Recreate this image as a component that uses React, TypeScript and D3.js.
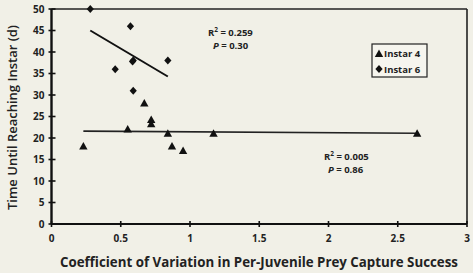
import React from "react";
import * as d3 from "d3";

const instar4X = [0.23, 0.55, 0.67, 0.72, 0.72, 0.84, 0.87, 0.95, 1.17, 2.64];
const instar4Y = [18, 22, 28, 24.2, 23.2, 21, 18, 17, 21, 21];
const instar6X = [0.28, 0.57, 0.46, 0.59, 0.585, 0.59, 0.84];
const instar6Y = [50, 46, 36, 38, 37.8, 31, 38];
const fit4 = [[0.23, 21.6], [2.63, 21.1]];
const fit6 = [[0.28, 45], [0.84, 34.3]];
const xTicks = [0, 0.5, 1, 1.5, 2, 2.5, 3];
const yTicks = [0, 5, 10, 15, 20, 25, 30, 35, 40, 45, 50];

const W = 473, H = 273;
const x0 = 51.5, x1 = 467, y0 = 224, y1 = 9;

export default function App() {
  const x = d3.scaleLinear().domain([0, 3]).range([x0, x1]);
  const y = d3.scaleLinear().domain([0, 50]).range([y0, y1]);
  const line = d3.line<number[]>().x(d => x(d[0])).y(d => y(d[1]));
  const font = "'Open Sans', 'DejaVu Sans', sans-serif";
  const tri = (cx: number, cy: number) => `M${cx},${cy - 4.5}L${cx + 4.2},${cy + 3}L${cx - 4.2},${cy + 3}Z`;
  const dia = (cx: number, cy: number) => `M${cx},${cy - 4}L${cx + 3.6},${cy}L${cx},${cy + 4}L${cx - 3.6},${cy}Z`;
  return (
    <svg width={W} height={H} style={{ position: "absolute", left: 0, top: 0, background: "#f1f0e7" }} fontFamily={font}>
      <rect x={0} y={0} width={W} height={H} fill="#f1f0e7" />
      <line x1={x0} y1={y1} x2={x1} y2={y1} stroke="#222" strokeWidth={1.6} />
      <line x1={x1} y1={y1} x2={x1} y2={y0} stroke="#222" strokeWidth={1.6} />
      <line x1={x0} y1={y0} x2={x1} y2={y0} stroke="#111" strokeWidth={2} />
      <line x1={x0} y1={y1} x2={x0} y2={y0} stroke="#111" strokeWidth={2.4} />
      {yTicks.map(t => (
        <g key={"y" + t}>
          <line x1={x0 - 3} x2={x0 + 4} y1={y(t)} y2={y(t)} stroke="#111" strokeWidth={1.6} />
          <text x={x0 - 7} y={y(t) + 3.5} textAnchor="end" fontSize={10} fontWeight="bold" fill="#222">{t}</text>
        </g>
      ))}
      {xTicks.map(t => (
        <g key={"x" + t}>
          <line x1={x(t)} x2={x(t)} y1={y0 - 3} y2={y0 + 3} stroke="#111" strokeWidth={1.6} />
          <text x={x(t)} y={y0 + 18} textAnchor="middle" fontSize={10} fontWeight="bold" fill="#222">{t}</text>
        </g>
      ))}
      <path d={line(fit4 as any) || ""} stroke="#222" strokeWidth={1.6} fill="none" />
      <path d={line(fit6 as any) || ""} stroke="#111" strokeWidth={2} fill="none" />
      {instar4X.map((v, i) => (
        <path key={"t" + i} d={tri(x(v), y(instar4Y[i]))} fill="#111" />
      ))}
      {instar6X.map((v, i) => (
        <path key={"d" + i} d={dia(x(v), y(instar6Y[i]))} fill="#111" />
      ))}
      <text x={208} y={36} fontSize={9.5} fontWeight="bold" fill="#222">R<tspan dy={-4} fontSize={6.5}>2</tspan><tspan dy={4}> = 0.259</tspan></text>
      <text x={213} y={49} fontSize={9.5} fontWeight="bold" fill="#222"><tspan fontStyle="italic">P</tspan>  = 0.30</text>
      <text x={324} y={160} fontSize={9.5} fontWeight="bold" fill="#222">R<tspan dy={-4} fontSize={6.5}>2</tspan><tspan dy={4}> = 0.005</tspan></text>
      <text x={328} y={173} fontSize={9.5} fontWeight="bold" fill="#222"><tspan fontStyle="italic">P</tspan>  = 0.86</text>
      <rect x={372} y={44} width={55} height={33} fill="#f6f5ee" stroke="#222" strokeWidth={1.2} />
      <path d={tri(379, 54)} fill="#111" />
      <text x={384} y={57} fontSize={9.5} fontWeight="bold" fill="#222">Instar 4</text>
      <path d={dia(379, 69)} fill="#111" />
      <text x={384} y={73} fontSize={9.5} fontWeight="bold" fill="#222">Instar 6</text>
      <text transform={`translate(17,${(y0 + y1) / 2 + 1}) rotate(-90)`} textAnchor="middle" fontSize={13} fontWeight={600} fill="#222">Time Until Reaching Instar (d)</text>
      <text x={259} y={267} textAnchor="middle" fontSize={13.3} fontWeight="bold" fill="#222">Coefficient of Variation in Per-Juvenile Prey Capture Success</text>
    </svg>
  );
}
